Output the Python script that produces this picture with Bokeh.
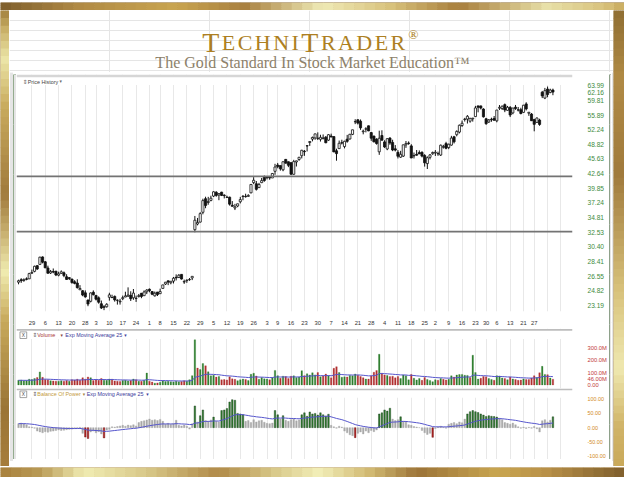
import math
from bokeh.plotting import figure
from bokeh.layouts import row, column
from bokeh.models import Range1d, LinearScale, FixedTicker, Grid, PrintfTickFormatter, Span
from bokeh.core.properties import value
from bokeh.embed import file_html
from bokeh.resources import INLINE

# ------------------------------------------------------------------ data
week_labels = ["29", "6", "13", "20", "28", "3", "10", "17", "24", "1", "8", "15", "22", "29",
               "5", "12", "19", "26", "3", "9", "16", "23", "30", "7", "14", "21", "28",
               "4", "11", "18", "25", "2", "9", "16", "23", "30", "6", "13", "21", "27"]
week_idx = [5, 10, 15, 20, 25, 29, 34, 39, 44, 49, 53, 58, 63, 68, 73, 78, 83, 88, 93, 97,
            102, 107, 112, 117, 122, 127, 132, 137, 142, 147, 152, 156, 161, 166, 171, 175,
            179, 184, 189, 193]
extra_week_idx = [198, 203]

opens = [
    25.80, 26.10, 26.00, 26.20, 26.20, 26.90, 27.13, 27.85, 28.01, 29.00,
    28.35, 27.55, 26.92, 27.10, 27.15, 26.65, 26.87, 26.95, 26.46, 26.35,
    26.18, 25.85, 25.70, 24.91, 24.80, 24.56, 23.75, 23.62, 24.63, 24.27,
    24.00, 23.35, 23.03, 23.03, 24.06, 24.03, 24.16, 23.72, 23.56, 23.91,
    24.09, 24.20, 24.28, 24.00, 23.95, 24.14, 24.51, 24.24, 24.68, 24.97,
    24.70, 24.22, 24.65, 24.47, 25.07, 25.58, 25.96, 25.74, 25.93, 26.39,
    26.37, 26.75, 25.82, 25.99, 26.10, 26.32,
    32.90, 33.77, 34.07, 35.65, 37.96, 37.30, 37.66, 38.43, 39.11, 38.61,
    39.13, 38.59, 38.20, 38.24, 36.83, 36.36, 36.70, 37.43, 38.35, 38.38,
    38.37, 39.00, 40.90, 40.68, 39.96, 40.89, 42.02, 41.84, 42.01, 41.79,
    43.09, 44.36, 44.24, 43.39, 45.53, 45.04, 44.85, 42.50, 44.99, 45.51,
    46.32, 47.28, 48.50, 49.23, 50.01, 50.29, 50.14, 49.97, 50.13, 50.47,
    49.77, 50.73, 50.60, 47.38, 47.86, 49.18, 48.31, 49.99, 50.04, 51.12,
    54.18, 54.68, 54.33, 51.75, 52.38, 53.18, 51.54, 50.73, 50.00, 47.16,
    50.85, 49.37, 47.79, 50.26, 49.24, 47.81, 47.04, 46.00, 46.23, 48.70,
    49.11, 48.47, 46.26, 46.61, 46.99, 47.04, 46.36, 44.66, 45.97, 46.75,
    46.90, 46.75, 46.46, 48.15, 48.98, 48.09, 48.64, 50.55, 51.05, 51.66,
    53.26, 54.76, 54.86, 54.33, 54.93, 55.50, 58.32, 58.32, 57.48, 54.93,
    54.12, 54.83, 55.02, 54.42, 57.70, 57.60, 58.65, 57.13, 57.91, 56.46,
    57.98, 57.26, 57.30, 56.60, 58.85, 56.37, 56.15, 54.73, 54.02, 54.61,
    62.12, 60.47, 63.03, 62.05, 62.74]
highs = [
    26.10, 26.28, 26.26, 26.38, 26.95, 27.35, 27.85, 27.92, 29.02, 29.07,
    28.45, 27.85, 27.30, 27.49, 27.18, 27.08, 27.25, 27.11, 26.77, 26.40,
    26.20, 26.04, 26.15, 25.45, 24.87, 24.84, 23.81, 24.60, 24.84, 24.32,
    24.16, 23.70, 23.20, 23.41, 24.57, 24.35, 24.26, 23.83, 23.89, 24.25,
    24.69, 25.19, 24.74, 25.00, 24.25, 24.43, 24.55, 24.84, 24.98, 25.06,
    24.77, 24.71, 24.66, 25.04, 25.49, 25.83, 26.00, 25.93, 26.43, 26.75,
    26.78, 26.77, 26.11, 26.13, 26.30, 26.53,
    35.05, 34.73, 35.66, 37.96, 38.31, 38.29, 38.49, 39.32, 39.30, 38.94,
    39.19, 38.74, 38.50, 38.32, 37.55, 37.07, 37.08, 38.28, 38.58, 38.85,
    38.75, 40.63, 41.94, 41.20, 40.85, 41.78, 42.26, 42.16, 42.17, 42.76,
    44.61, 44.79, 44.26, 45.09, 45.62, 45.08, 44.94, 45.44, 45.25, 46.05,
    47.60, 47.55, 48.66, 49.54, 50.60, 51.28, 51.60, 51.03, 51.10, 50.72,
    51.16, 51.29, 50.60, 47.84, 49.68, 49.87, 49.63, 51.00, 51.24, 52.22,
    54.83, 54.81, 54.76, 52.25, 52.84, 53.24, 51.70, 50.79, 50.21, 52.00,
    52.09, 49.75, 50.18, 50.45, 49.87, 48.65, 47.53, 47.37, 48.74, 49.57,
    49.48, 48.84, 47.00, 47.55, 47.46, 47.27, 46.65, 46.17, 46.67, 47.21,
    47.54, 47.20, 48.77, 48.70, 49.39, 48.97, 50.77, 50.77, 52.07, 53.50,
    54.50, 55.18, 55.89, 55.19, 55.15, 58.32, 58.38, 58.38, 57.68, 55.18,
    54.86, 55.22, 55.65, 57.26, 58.55, 58.41, 58.96, 58.30, 58.25, 57.78,
    58.57, 58.02, 57.82, 58.58, 59.31, 56.68, 56.42, 54.94, 55.28, 54.95,
    62.50, 63.37, 63.77, 63.14, 63.16]
lows = [
    25.55, 25.72, 25.85, 26.03, 26.18, 26.80, 27.01, 27.31, 27.98, 28.15,
    27.54, 26.85, 26.80, 26.89, 26.54, 26.51, 26.80, 26.40, 26.10, 26.06,
    25.62, 25.55, 25.05, 24.89, 24.18, 24.02, 23.09, 23.50, 24.27, 23.71,
    23.36, 22.79, 22.67, 22.94, 23.69, 24.00, 23.58, 23.26, 23.26, 23.75,
    24.08, 24.10, 23.65, 23.78, 23.55, 24.04, 23.96, 24.21, 24.42, 24.62,
    24.30, 24.15, 24.20, 24.42, 25.03, 25.47, 25.45, 25.55, 25.65, 26.01,
    26.30, 26.12, 25.60, 25.72, 25.97, 26.05,
    32.50, 33.56, 34.01, 35.32, 36.33, 36.92, 37.50, 38.25, 38.31, 37.70,
    38.43, 38.01, 38.10, 36.77, 36.62, 36.02, 36.50, 37.14, 37.69, 38.15,
    38.28, 38.93, 40.62, 39.42, 39.88, 40.80, 41.06, 41.51, 41.44, 41.77,
    42.40, 43.70, 43.23, 43.11, 44.65, 43.93, 42.43, 42.43, 44.06, 45.23,
    45.74, 46.29, 47.24, 48.46, 49.50, 49.86, 49.80, 49.45, 49.95, 49.06,
    49.57, 50.40, 47.08, 45.26, 47.83, 48.79, 47.91, 49.18, 49.90, 50.95,
    53.60, 53.51, 52.20, 51.13, 51.59, 51.88, 49.61, 49.25, 48.75, 46.50,
    49.72, 48.02, 47.51, 48.71, 47.30, 47.25, 45.73, 45.83, 46.06, 48.03,
    48.71, 45.80, 45.72, 46.31, 46.69, 45.96, 44.04, 43.55, 45.53, 46.50,
    46.26, 46.29, 46.26, 47.87, 47.71, 47.74, 48.54, 49.01, 50.66, 51.34,
    52.91, 54.24, 53.75, 53.95, 54.23, 55.45, 56.61, 57.37, 55.25, 53.43,
    53.91, 54.19, 54.53, 54.05, 57.22, 57.23, 56.65, 57.06, 55.38, 56.10,
    57.27, 56.83, 56.07, 56.50, 57.10, 55.69, 54.40, 51.85, 54.00, 53.19,
    60.46, 60.17, 60.70, 61.82, 61.27]
closes = [
    25.97, 25.98, 26.11, 26.14, 26.85, 26.98, 27.77, 27.43, 28.97, 28.31,
    27.57, 26.89, 27.12, 27.04, 26.68, 26.82, 27.07, 26.60, 26.13, 26.25,
    25.76, 25.66, 25.16, 25.06, 24.31, 24.10, 23.32, 24.55, 24.35, 23.85,
    23.52, 22.90, 22.97, 23.29, 24.33, 24.03, 23.77, 23.73, 23.63, 24.02,
    24.21, 24.31, 23.90, 24.53, 23.94, 24.25, 24.16, 24.66, 24.88, 24.81,
    24.41, 24.52, 24.37, 24.71, 25.48, 25.80, 25.81, 25.91, 26.28, 26.32,
    26.65, 26.18, 25.88, 26.05, 26.13, 26.51,
    34.36, 34.01, 35.43, 37.63, 36.80, 37.49, 38.05, 39.19, 38.55, 38.87,
    38.54, 38.50, 38.22, 37.02, 36.65, 36.56, 37.08, 37.81, 38.41, 38.32,
    38.55, 40.55, 41.34, 39.64, 40.55, 41.28, 41.29, 41.87, 41.78, 42.66,
    43.95, 44.04, 43.60, 45.04, 44.75, 44.31, 42.51, 45.07, 45.23, 45.98,
    47.49, 47.19, 48.45, 49.46, 50.39, 51.24, 50.23, 50.42, 50.28, 49.18,
    51.04, 50.52, 47.14, 46.77, 49.05, 49.11, 49.51, 49.50, 51.14, 52.21,
    54.22, 53.85, 52.68, 51.90, 52.45, 51.95, 50.23, 49.40, 49.01, 50.21,
    49.75, 48.22, 50.11, 49.12, 47.56, 47.53, 46.20, 46.61, 48.71, 48.99,
    49.01, 45.83, 46.36, 46.43, 46.70, 46.23, 44.82, 45.89, 46.49, 47.01,
    47.06, 46.73, 48.62, 48.34, 47.94, 48.84, 50.25, 49.38, 51.83, 53.32,
    53.81, 54.86, 55.57, 55.05, 55.12, 57.77, 57.96, 57.73, 55.44, 53.71,
    54.65, 54.71, 54.56, 57.20, 57.92, 58.23, 57.22, 57.94, 55.91, 57.74,
    57.60, 57.19, 56.30, 58.51, 57.51, 56.63, 54.45, 53.55, 55.14, 53.53,
    61.08, 62.57, 61.48, 62.75, 62.16]
volume_m = [
    37, 39, 34, 35, 46, 43, 52, 60, 105, 61,
    43, 41, 34, 32, 30, 29, 33, 30, 35, 30,
    42, 39, 46, 38, 58, 46, 64, 58, 35, 40,
    37, 52, 38, 38, 47, 46, 32, 30, 28, 35,
    38, 32, 35, 47, 41, 29, 29, 38, 96, 30,
    23, 14, 16, 22, 33, 28, 29, 25, 24, 30,
    25, 27, 34, 30, 42, 75,
    365, 136, 124, 173, 154, 106, 73, 78, 63, 68,
    41, 43, 40, 65, 49, 45, 34, 42, 47, 44,
    35, 86, 94, 72, 46, 59, 49, 48, 42, 59,
    117, 75, 54, 70, 68, 52, 70, 73, 59, 63,
    115, 75, 90, 80, 98, 81, 100, 65, 72, 88,
    75, 57, 134, 147, 100, 62, 65, 64, 77, 74,
    88, 79, 68, 58, 47, 47, 73, 102, 116, 248,
    95, 80, 76, 67, 70, 57, 68, 51, 80, 75,
    41, 85, 54, 40, 52, 37, 60, 44, 36, 26,
    42, 38, 51, 45, 40, 45, 73, 63, 80, 84,
    85, 78, 77, 59, 240, 100, 47, 54, 68, 65,
    52, 44, 38, 75, 72, 56, 52, 42, 63, 48,
    43, 37, 39, 48, 43, 43, 55, 74, 60, 98,
    150, 85, 83, 56, 46]
bop = [
    14, 16, 13, 10, 3, 2, -2, -12, -15, -18,
    -14, -16, -13, -12, -10, -8, -10, -9, -7, -6,
    -5, -3, -2, 1, -20, -33, -38, -15, -12, -18,
    -14, -22, -36, -8, -6, 3, 2, 4, 6, 8,
    5, 9, 7, 10, 6, 18, 22, 24, 27, 30,
    26, 28, 25, 29, 22, 12, 15, 11, 14, 26,
    8, 6, 9, 5, -5, 14, 76, 20, 42, 62,
    25, 22, 27, 37, 22, 20, 60, 62, 67, 90,
    98, 96, 50, 48, 45, 22, 25, 18, 28, 20,
    24, 26, 19, 15, 14, 16, 60, 45, 30, 42,
    26, 22, 28, 30, 24, 27, 45, 52, 40, 55,
    48, 50, 44, 52, 45, 40, 47, 8, 3, -2,
    5, 2, -12, -18, -25, -28, -35, -20, -15, -22,
    -12, -18, -10, -14, -8, 48, 52, 62, 58, 68,
    30, 25, 28, 38, 22, 20, 10, 8, 4, 2,
    0, -10, -18, -24, -20, -34, -3, 2, 5, 1,
    -2, 12, 15, 18, 14, 20, 17, 30, 48, 56,
    60, 56, 53, 48, 44, 39, 42, 40, 39, 37,
    33, 28, 18, 15, 12, 16, 10, 3, -2, 2,
    -3, 1, -2, 4, -4, -15, 24, 28, 20, 26,
    38]
price_ticks = [23.19, 24.82, 26.55, 28.41, 30.40, 32.53, 34.81, 37.24, 39.85, 42.64,
               45.63, 48.82, 52.24, 55.89, 59.81, 63.99]
vol_ticks = [0, 100, 200, 300]
vol_tick_labels = ["0.00", "100.0M", "200.0M", "300.0M"]
bop_ticks = [-100, -50, 0, 50, 100]
bop_tick_labels = ["-100.00", "-50.00", "0.00", "50.00", "100.00"]
support_levels = [42.1, 32.6]
EMA_PERIOD = 25

# ------------------------------------------------------------------ geometry (canvas px)
SX, SY = 624 / 640, 477 / 493     # canvas / reference-image scale
X0, DX = 18.04, 2.696             # canvas x of day 0 / px per trading day
PANEL_W = 593
PANEL_LEFT = 16
FRAME_R = 577
FW = FRAME_R - PANEL_LEFT         # 561
BORDER_R = PANEL_W - FW           # 32
x_start = (PANEL_LEFT - X0) / DX
x_end = (FRAME_R - X0) / DX

PRICE_H, PRICE_FH = 254, 237
PRICE_LO, PRICE_HI = 22.53, 67.43
VOL_H, VOL_LO, VOL_HI = 60, -29.2, 456.5
BOP_H, BOP_LO, BOP_HI = 71, -111.6, 137.2


def ema(vals, n):
    a = 2.0 / (n + 1)
    out, e = [], vals[0]
    for v in vals:
        e = a * v + (1 - a) * e
        out.append(e)
    return out


def hexrgb(h):
    return tuple(int(h[i:i + 2], 16) for i in (1, 3, 5))


def interp(stops, pos):
    for (p0, c0), (p1, c1) in zip(stops[:-1], stops[1:]):
        if p0 <= pos <= p1:
            t = (pos - p0) / (p1 - p0)
            a, b = hexrgb(c0), hexrgb(c1)
            return "#%02x%02x%02x" % tuple(int(round(a[k] + (b[k] - a[k]) * t)) for k in range(3))
    return stops[-1][1] if pos > stops[-1][0] else stops[0][1]


def plain(w, h, color="white"):
    p = figure(width=w, height=h, x_range=Range1d(0, w), y_range=Range1d(h, 0),
               toolbar_location=None, output_backend="svg", min_border=0,
               x_axis_location=None, y_axis_location=None, title=None)
    p.outline_line_color = None
    p.background_fill_color = color
    p.border_fill_color = color
    return p


def gold(w, h, stops, along, offset, scale, n=60):
    p = plain(w, h, interp(stops, offset / scale))
    L = w if along == "x" else h
    seg = L / n
    l, r, t, b, c = [], [], [], [], []
    for k in range(n):
        a0, a1 = k * seg, (k + 1) * seg + 0.6
        col = interp(stops, (offset + (k + 0.5) * seg) / scale)
        if along == "x":
            l.append(a0); r.append(a1); t.append(0); b.append(h)
        else:
            l.append(0); r.append(w); t.append(a0); b.append(a1)
        c.append(col)
    p.quad(left=l, right=r, top=t, bottom=b, fill_color=c, line_color=None)
    return p


top_stops = [(0, "#7e5e2c"), (80, "#b08a45"), (180, "#c9a550"), (250, "#a88040"), (330, "#efeab6"),
             (400, "#d8c27c"), (470, "#a87e3c"), (560, "#e8e0a8"), (620, "#d8c27c"), (640, "#c8aa5c")]
bot_stops = [(0, "#a8803c"), (40, "#b89a55"), (86, "#f0ecb2"), (150, "#d8c888"), (224, "#b08a48"),
             (280, "#d8c888"), (327, "#f2eeb8"), (380, "#d0b870"), (428, "#9c7438"), (510, "#c9a650"),
             (560, "#b89048"), (640, "#7e5e2c")]
left_stops = [(0, "#7a5a2a"), (12, "#a58540"), (30, "#c9b068"), (60, "#ece6a8"), (110, "#c8aa5c"),
              (200, "#a07a3c"), (240, "#c8b070"), (280, "#f0ecb0"), (330, "#c8aa5c"), (420, "#9a7535"),
              (493, "#a87e3c")]
right_stops = [(0, "#8a6a30"), (80, "#b08a45"), (180, "#a07a3c"), (300, "#d8c27c"), (380, "#efe8b0"),
               (440, "#d0b468"), (493, "#c8a656")]

SANS = "Liberation Sans"
GRID_C = "#e8e8e8"
grid_ticks = week_idx + extra_week_idx
idx = list(range(len(closes)))


def style_right_axis(ax, color, size):
    ax.axis_line_color = None
    ax.major_tick_line_color = None
    ax.minor_tick_line_color = None
    ax.major_label_text_font = SANS
    ax.major_label_text_font_size = size
    ax.major_label_text_color = color
    ax.major_label_standoff = 9


def header(p, y, items):
    for x, txt, col, font, size in items:
        p.text(x=[x], y=[y], text=[txt], x_range_name="px", y_range_name="py",
               text_font=value(font), text_font_size=size, text_color=col,
               text_baseline="middle", text_align="left")


def xbox(p, ytop):
    p.quad(left=[3.5], right=[10.3], top=[ytop], bottom=[ytop + 6.6], x_range_name="px",
           y_range_name="py", fill_color="white", line_color="#8a8a8a", line_width=0.8)
    p.text(x=[6.9], y=[ytop + 3.4], text=["X"], x_range_name="px", y_range_name="py",
           text_font=value(SANS), text_font_size="4.8px", text_color="#444",
           text_align="center", text_baseline="middle")


def panel_fig(height, y_range, **kw):
    p = figure(width=PANEL_W, height=height, y_range=y_range, y_axis_location="right",
               toolbar_location=None, output_backend="svg", title=None,
               min_border_left=0, min_border_right=BORDER_R, min_border_top=0, **kw)
    p.outline_line_color = None
    p.extra_x_ranges = {"px": Range1d(0, FW)}
    p.ygrid.visible = False
    p.xgrid.visible = False
    p.add_layout(Grid(dimension=0, ticker=FixedTicker(ticks=grid_ticks), grid_line_color=GRID_C))
    return p


# ------------------------------------------------------------------ price panel
price = panel_fig(PRICE_H, Range1d(PRICE_LO, PRICE_HI), x_range=Range1d(x_start, x_end),
                  y_axis_type="log", x_axis_location="below",
                  min_border_bottom=PRICE_H - PRICE_FH)
price.extra_y_ranges = {"py": Range1d(PRICE_FH, 0)}
price.extra_y_scales = {"py": LinearScale()}

xa = price.xaxis[0]
xa.ticker = FixedTicker(ticks=week_idx)
xa.major_label_overrides = {i: l for i, l in zip(week_idx, week_labels)}
xa.axis_line_color = None
xa.major_tick_line_color = None
xa.minor_tick_line_color = None
xa.major_label_text_font = SANS
xa.major_label_text_font_size = "5.8px"
xa.major_label_text_color = "#333333"
xa.major_label_standoff = 3

ya = price.yaxis[0]
ya.ticker = FixedTicker(ticks=price_ticks + [closes[-1]])
ya.formatter = PrintfTickFormatter(format="%.2f")
style_right_axis(ya, "#3d8b3d", "6.6px")

for lvl in support_levels:
    price.add_layout(Span(location=lvl, dimension="width", line_color="#737373", line_width=1.6))

price.segment(x0=idx, y0=highs, x1=idx, y1=lows, line_color="#111111", line_width=1.0)
up_i = [i for i in idx if closes[i] >= opens[i]]
dn_i = [i for i in idx if closes[i] < opens[i]]
price.vbar(x=up_i, width=0.8, top=[closes[i] for i in up_i], bottom=[opens[i] for i in up_i],
           fill_color="white", line_color="#111111", line_width=0.8)
price.vbar(x=dn_i, width=0.8, top=[opens[i] for i in dn_i], bottom=[closes[i] for i in dn_i],
           fill_color="#111111", line_color="#111111", line_width=0.8)

price.quad(left=[0], right=[FW], top=[0], bottom=[10.6], x_range_name="px", y_range_name="py",
           fill_color="white", line_color=None)
price.quad(left=[0], right=[FW], top=[0], bottom=[2.8], x_range_name="px", y_range_name="py",
           fill_color="#d6d6d6", line_color=None)
header(price, 7.4, [(6.4, "⇕", "#666666", "DejaVu Sans", "5.8px"),
                    (11.3, "Price History", "#444444", SANS, "5.4px"),
                    (43.5, "▾", "#666666", "DejaVu Sans", "4.8px")])

# ------------------------------------------------------------------ volume panel
vol = panel_fig(VOL_H, Range1d(VOL_LO, VOL_HI), x_range=price.x_range, x_axis_location=None,
                min_border_bottom=0)
vol.extra_y_ranges = {"py": Range1d(VOL_H, 0)}
va = vol.yaxis[0]
va.ticker = FixedTicker(ticks=vol_ticks + [volume_m[-1]])
vol_overrides = {t: l for t, l in zip(vol_ticks, vol_tick_labels)}
vol_overrides[volume_m[-1]] = "%.2fM" % volume_m[-1]
va.major_label_overrides = vol_overrides
style_right_axis(va, "#c23b3b", "5.8px")

vcol = []
for i in idx:
    prev = closes[i - 1] if i else opens[i]
    vcol.append("#2f7f2f" if closes[i] >= prev else "#b03030")
vol.vbar(x=idx, width=0.56, top=volume_m, bottom=0, fill_color=vcol, line_color=vcol, line_width=0.3)
vol.line(idx, ema(volume_m, EMA_PERIOD), line_color="#5555cc", line_width=1)

vol.quad(left=[0], right=[FW], top=[0], bottom=[10.4], x_range_name="px", y_range_name="py",
         fill_color="white", line_color=None)
vol.quad(left=[0], right=[FW], top=[0.5], bottom=[2.3], x_range_name="px", y_range_name="py",
         fill_color="#bdbdbd", line_color=None)
xbox(vol, 3.4)
header(vol, 6.8, [(16.2, "⇕", "#666666", "DejaVu Sans", "5.8px"),
                  (21, "Volume", "#a83232", SANS, "5.4px"),
                  (44.5, "▾", "#884040", "DejaVu Sans", "4.8px"),
                  (49.3, "Exp Moving Average 25", "#3a3a9a", SANS, "5.4px"),
                  (108.8, "▾", "#3a3a9a", "DejaVu Sans", "4.8px")])

# ------------------------------------------------------------------ balance of power panel
bp = panel_fig(BOP_H, Range1d(BOP_LO, BOP_HI), x_range=price.x_range, x_axis_location=None,
               min_border_bottom=0)
bp.extra_y_ranges = {"py": Range1d(BOP_H, 0)}
ba = bp.yaxis[0]
ba.ticker = FixedTicker(ticks=bop_ticks)
ba.major_label_overrides = {t: l for t, l in zip(bop_ticks, bop_tick_labels)}
style_right_axis(ba, "#d28a1e", "5.4px")

bcol, bline = [], []
for v in bop:
    if v >= 35:
        bcol.append("#2f7a2f"); bline.append("#1b3d1b")
    elif v <= -30:
        bcol.append("#b02424"); bline.append("#6a1010")
    else:
        bcol.append("#a9a9a9"); bline.append("#a9a9a9")
bp.vbar(x=idx, width=0.58, top=bop, bottom=0, fill_color=bcol, line_color=bline, line_width=0.4)
bp.line(idx, ema(bop, EMA_PERIOD), line_color="#5555cc", line_width=1)

bp.quad(left=[0], right=[FW], top=[0], bottom=[9.2], x_range_name="px", y_range_name="py",
        fill_color="white", line_color=None)
bp.quad(left=[0], right=[FW], top=[0], bottom=[1.8], x_range_name="px", y_range_name="py",
        fill_color="#bdbdbd", line_color=None)
xbox(bp, 2.5)
header(bp, 5.8, [(16.2, "⇕", "#666666", "DejaVu Sans", "5.8px"),
                 (21, "Balance Of Power", "#c39a3a", SANS, "5.4px"),
                 (66.9, "▾", "#a08040", "DejaVu Sans", "4.8px"),
                 (70.8, "Exp Moving Average 25", "#3a3a9a", SANS, "5.4px"),
                 (131, "▾", "#3a3a9a", "DejaVu Sans", "4.8px")])

# ------------------------------------------------------------------ title block
TITLE_W, TITLE_H = 604, 62
tt = plain(TITLE_W, TITLE_H)
SERIF = "Liberation Serif"
em = {"T": 0.611, "E": 0.611, "C": 0.667, "H": 0.722, "N": 0.722, "I": 0.333,
      "R": 0.667, "A": 0.722, "D": 0.722}
BIG, SMALL, TRACK = 28, 22, 2.45
letters = [("T", BIG), ("E", SMALL), ("C", SMALL), ("H", SMALL), ("N", SMALL), ("I", SMALL),
           ("T", BIG), ("R", SMALL), ("A", SMALL), ("D", SMALL), ("E", SMALL), ("R", SMALL)]
lx = 192.8
for ch, sz in letters:
    tt.text(x=[lx], y=[31.9], text=[ch], text_font=value(SERIF), text_font_size="%dpx" % sz,
            text_color="#ad7f22", text_baseline="alphabetic", text_align="left")
    lx += em[ch] * sz + TRACK
tt.text(x=[lx + 0.5], y=[23.5], text=["®"], text_font=value(SERIF), text_font_size="13.5px",
        text_color="#ad7f22", text_baseline="alphabetic", text_align="left")
tt.text(x=[303], y=[51.8], text=["The Gold Standard In Stock Market Education™"],
        text_font=value(SERIF), text_font_size="16px", text_color="#8d816a",
        text_baseline="alphabetic", text_align="center")

# ------------------------------------------------------------------ assembly
panels = column(price, vol, bp)
chart = column(plain(598, 2, "#1d3318"),
               row(plain(3, 385, "#2b5a1e"), panels, plain(2, 385, "#1f4416")),
               plain(598, 2, "#2b5a1e"))
inner = column(tt,
               row(plain(4, 389), chart, plain(2, 389)),
               plain(TITLE_W, 5))
layout = column(gold(624, 10, top_stops, "x", 0, SX),
                row(gold(9, 456, left_stops, "y", 10, SY), inner, gold(11, 456, right_stops, "y", 10, SY)),
                gold(624, 11, bot_stops, "x", 0, SX))

open("out.html", "w").write(file_html(layout, INLINE))
